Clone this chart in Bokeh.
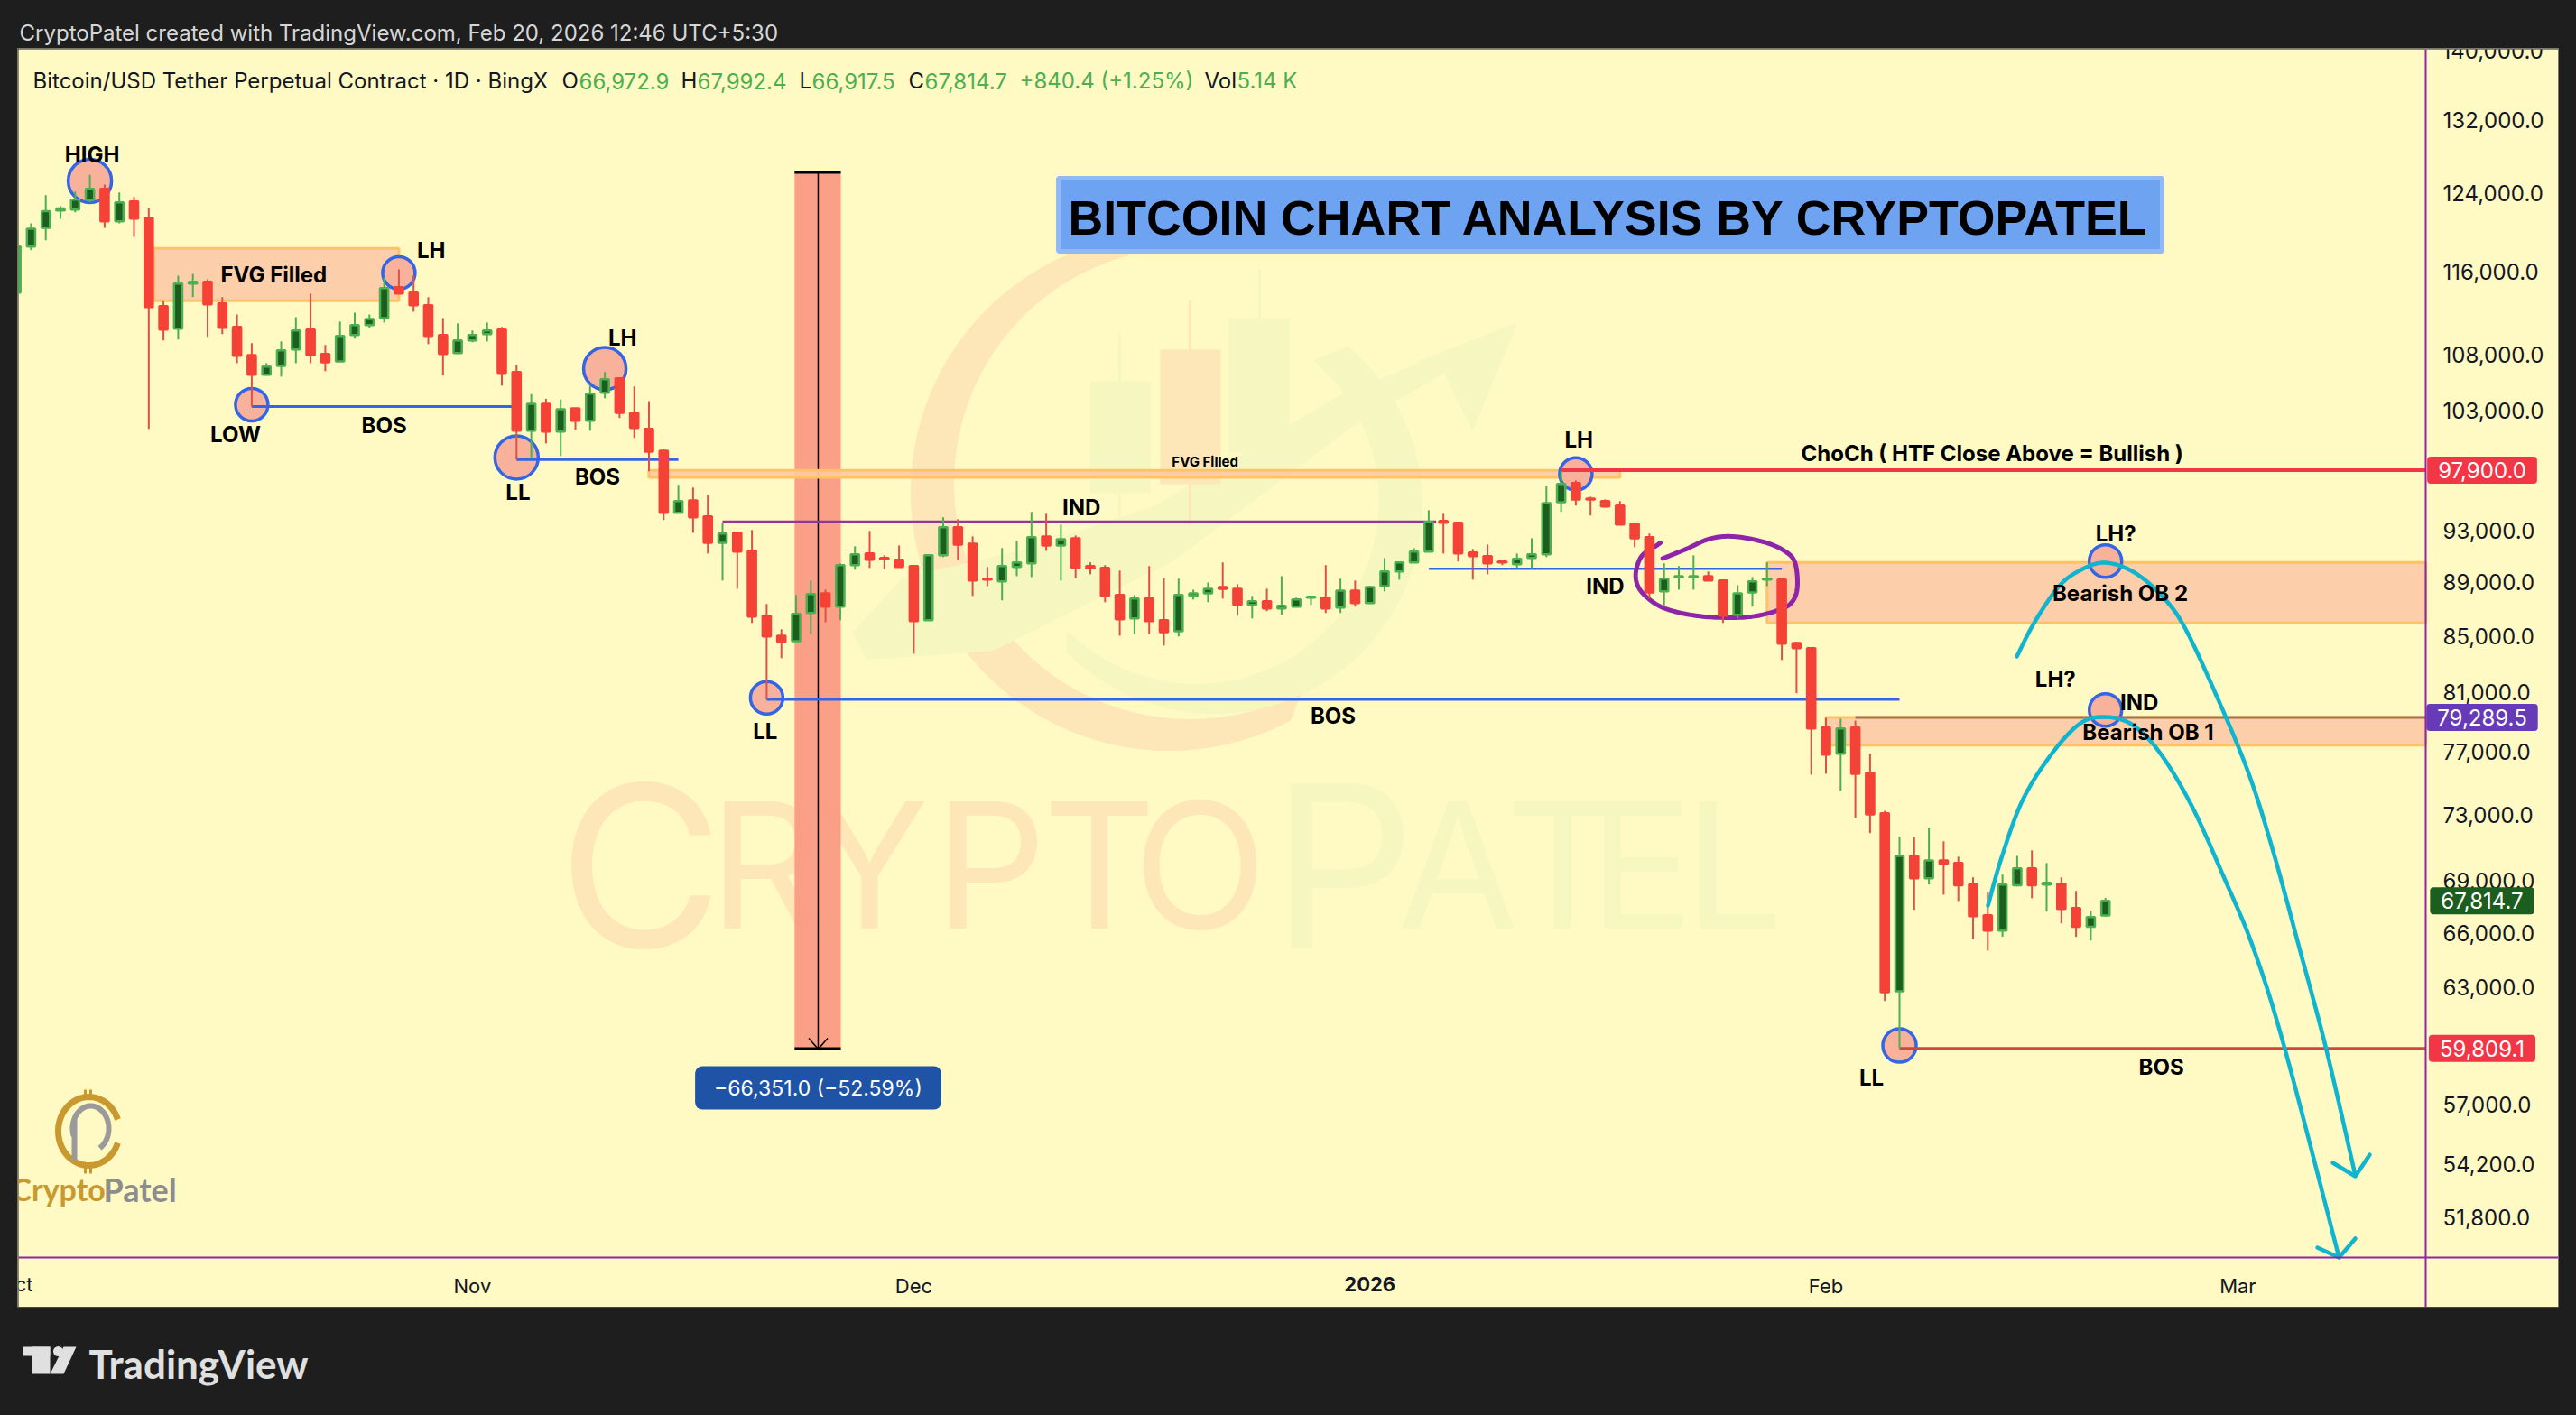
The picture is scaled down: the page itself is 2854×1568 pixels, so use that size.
from bokeh.plotting import figure
from bokeh.embed import file_html
from bokeh.layouts import column
from bokeh.resources import INLINE
from bokeh.core.properties import value
from bokeh.models import FixedTicker, Label, LinearAxis, LogAxis, NumeralTickFormatter, Range1d
import numpy as np

opens = [113900, 118450, 120360, 122170, 122260, 123300, 124430, 121040, 123110, 121420,
         112590, 110440, 114770, 114950, 112850, 110610, 108000, 106200, 107010, 108510,
         110360, 108090, 107410, 109850, 110780, 111450, 114420, 113900, 112670, 109850,
         108170, 109350, 109940, 110360, 106440, 101250, 103600, 101180, 103200, 102110,
         104580, 105870, 102810, 101410, 99540, 94410, 95420, 94120, 92030, 92820,
         91400, 86480, 85020, 84630, 86680, 88150, 87150, 90290, 91190, 90840,
         90700, 90220, 86150, 91050, 93250, 91960, 89250, 89040, 90150, 90430,
         92530, 91820, 92380, 90220, 90080, 88020, 86280, 87750, 86150, 85340,
         87950, 88150, 88620, 88490, 87280, 87550, 87020, 87150, 87820, 87820,
         87080, 88350, 87420, 88690, 89800, 90500, 91330, 93760, 93610, 91260,
         90980, 90570, 90360, 90840, 91120, 95270, 96840, 95560, 95350, 94990,
         93540, 92460, 88290, 89380, 89380, 89450, 89110, 86550, 88220, 89180,
         89180, 84500, 84120, 78610, 76880, 78610, 75640, 73070, 62790, 70470,
         69140, 70200, 70040, 68770, 66990, 66120, 68720, 69720, 68770, 68820,
         67400, 66330, 66972.9]
highs = [118730, 120830, 123770, 122640, 124140, 125940, 124900, 124050, 123580, 122360,
         113110, 115560, 115740, 115210, 113460, 111800, 109100, 107250, 109260, 111540,
         113810, 108930, 111120, 111970, 111800, 115390, 116180, 115560, 113460, 111450,
         110950, 110280, 111030, 110610, 107090, 104460, 104040, 103980, 103200, 105220,
         106440, 105950, 105140, 103830, 99690, 96690, 96460, 95860, 93610, 92820,
         93030, 87350, 85480, 88020, 89110, 88420, 90430, 91750, 92960, 91050,
         91820, 90290, 91120, 94050, 93900, 92530, 90150, 91610, 92170, 94480,
         94330, 93470, 92600, 90500, 90290, 89870, 88020, 90220, 89310, 89250,
         88420, 88970, 90500, 88830, 87950, 88490, 89450, 87820, 87950, 90290,
         89250, 89110, 88690, 90840, 90570, 91610, 94620, 94330, 93610, 91540,
         91890, 90700, 91190, 92380, 96610, 97810, 97060, 95710, 95490, 95350,
         93540, 92750, 90430, 90220, 91050, 89800, 89110, 88760, 89380, 90500,
         89180, 84570, 84180, 79270, 79210, 79080, 76880, 73230, 71630, 71580,
         72180, 71350, 70420, 69190, 68340, 69350, 70470, 70800, 70040, 69190,
         68400, 67250, 67992.4]
lows = [113810, 118090, 119090, 121300, 121980, 123020, 120360, 120830, 119450, 101410,
        109350, 109430, 113460, 109690, 109940, 107250, 103360, 106120, 106030, 107250,
        107250, 106520, 107410, 109520, 110530, 111030, 113810, 112060, 109010, 106120,
        108090, 109180, 109260, 105220, 98790, 98860, 100160, 99090, 101330, 101250,
        104090, 102350, 100630, 97810, 93830, 94410, 92820, 91190, 89110, 88490,
        85950, 80510, 83410, 84630, 85150, 86010, 86150, 89940, 90080, 90010,
        90150, 83730, 86150, 90910, 90700, 87950, 88690, 87620, 89450, 89380,
        91400, 89110, 89310, 89590, 87480, 85020, 85150, 85150, 84310, 84960,
        87680, 87480, 87750, 86480, 86280, 86820, 86550, 87080, 87280, 86680,
        86680, 87150, 87420, 88290, 89180, 90500, 91330, 91190, 90570, 89180,
        89590, 90290, 90080, 90080, 90910, 94480, 94990, 94190, 94840, 93470,
        91680, 87750, 87150, 88420, 88420, 89110, 85950, 86280, 87150, 88690,
        83280, 80950, 75520, 75580, 74490, 72790, 71850, 62270, 59809.1, 67300,
        68770, 68180, 67810, 65660, 65000, 65770, 68660, 67970, 67200, 66530,
        65770, 65560, 66917.5]
closes = [118450, 120270, 122080, 122360, 123300, 124430, 121040, 123020, 121320, 112500,
          110360, 114770, 114950, 112760, 110530, 107920, 106200, 106930, 108420, 110280,
          108000, 107330, 109770, 110780, 111370, 114340, 113810, 112670, 109770, 108090,
          109350, 109850, 110280, 106360, 101250, 103600, 101180, 103130, 102110, 104500,
          105790, 102810, 101490, 99460, 94410, 95350, 94050, 92030, 92750, 91330,
          86410, 84960, 84570, 86610, 88090, 87150, 90290, 91120, 90700, 90770,
          90150, 86080, 91050, 93250, 91890, 89110, 89180, 90220, 90500, 92460,
          91820, 92310, 90080, 90080, 87950, 86210, 87750, 86080, 85280, 88020,
          88150, 88490, 88490, 87280, 87550, 87020, 87220, 87680, 87890, 87020,
          88350, 87420, 88620, 89800, 90500, 91330, 93680, 93610, 91190, 90980,
          90430, 90500, 90770, 91120, 95200, 96760, 95490, 95490, 94910, 93470,
          92380, 88220, 89250, 89450, 89450, 89110, 86480, 88150, 89040, 89250,
          84440, 84120, 78550, 76820, 78550, 75580, 73010, 62740, 70470, 69140,
          70200, 69990, 68720, 66940, 66120, 68770, 69720, 68720, 68870, 67350,
          66330, 66890, 67814.7]

price_ticks = [132000, 124000, 116000, 108000, 103000, 93000, 89000, 85000, 81000,
               77000, 73000, 69000, 66000, 63000, 57000, 54200, 51800]
month_days = [31, 61, 123, 151]
month_names = ["Nov", "Dec", "Feb", "Mar"]

# structure points: day, price
circle_days = [5, 26, 16, 34, 40, 51, 106, 142, 142, 128]
circle_prices = [125270, 115820, 103520, 98970, 106760, 80640, 97590, 90600, 79800, 59950]
circle_sizes = [48, 36, 36, 48, 47, 36, 36, 36, 36, 37]

notes = ["HIGH", "FVG Filled", "LH", "LOW", "BOS", "LH", "LL", "BOS", "LL", "IND", "BOS", "LH",
         "ChoCh ( HTF Close Above = Bullish )", "IND", "LH?", "Bearish OB 2", "LH?", "IND",
         "Bearish OB 1", "LL", "BOS"]
note_days = [5.15, 17.5, 28.2, 14.9, 25, 41.2, 34.1, 39.5, 50.9, 72.4, 89.5, 106.2,
             134.3, 108, 142.7, 143, 138.6, 144.3, 144.9, 126.1, 145.8]
note_prices = [128060, 115650, 118090, 100940, 101720, 109600, 96080, 97360, 78370, 94840,
               79400, 100470, 99310, 88690, 92740, 88150, 81940, 80320, 78310, 58320, 58860]

legend_text = ["Bitcoin/USD Tether Perpetual Contract \u00b7 1D \u00b7 BingX", "O", "66,972.9", "H", "67,992.4",
               "L", "66,917.5", "C", "67,814.7", "+840.4 (+1.25%)", "Vol", "5.14 K"]

tag_prices = [97900.0, 79289.5, 67814.7, 59809.1]
tag_text = ["97,900.0", "79,289.5", "67,814.7", "59,809.1"]
tag_colors = ["#f23645", "#673ab7", "#1b5e20", "#f23645"]

BG = "#fff9c4"
DARK = "#1e1e1e"
PURPLE = "#8e24aa"
BLUE = "#3366e6"
CYAN = "#0fb5ce"
GREEN = "#4caf50"
RED = "#f44336"
INK = "#131722"

DAY_AXIS = 163.77


# window pixels to chart values, only for the hand drawn bits
def px_day(x):
    return (np.asarray(x, dtype=float) - 17.6) / 16.3


def px_price(y):
    return 132000 * np.exp(-(np.asarray(y, dtype=float) - 132) / 1300)


def smooth(points, n=12):
    pts = np.array([points[0]] + points + [points[-1]], dtype=float)
    out = []
    for i in range(1, len(pts) - 2):
        p0, p1, p2, p3 = pts[i - 1], pts[i], pts[i + 1], pts[i + 2]
        for t in np.linspace(0, 1, n, endpoint=False):
            out.append(0.5 * (2 * p1 + (p2 - p0) * t + (2 * p0 - 5 * p1 + 4 * p2 - p3) * t ** 2
                              + (3 * p1 - p0 - 3 * p2 + p3) * t ** 3))
    out.append(pts[-1])
    out = np.array(out)
    return px_day(out[:, 0]), px_price(out[:, 1])


def crescent(c1, r1, c2, r2, t0, t1):
    t = np.radians(np.linspace(t0, t1, 80))
    xs = np.concatenate([c1[0] + r1 * np.cos(t), (c2[0] + r2 * np.cos(t))[::-1]])
    ys = np.concatenate([c1[1] - r1 * np.sin(t), (c2[1] - r2 * np.sin(t))[::-1]])
    return px_day(xs), px_price(ys)


def strip(height, top):
    # dark band above or below the chart, its ranges are window pixels
    f = figure(width=2854, height=height, output_backend="svg", toolbar_location=None,
               x_range=Range1d(0, 2854), y_range=Range1d(top + height, top),
               x_axis_location=None, y_axis_location=None, min_border=0,
               background_fill_color=DARK, border_fill_color=DARK, outline_line_color=None)
    f.grid.visible = False
    return f


# header
head = strip(54, 0)
head.text([21], [36], text=["CryptoPatel created with TradingView.com, Feb 20, 2026 12:46 UTC+5:30"],
          text_font=value("Inter"), text_font_size="24px", text_color="#d6d6d6", text_baseline="middle")

# main chart: the frame fills the whole panel, both axes sit inside it at a fixed place
p = figure(width=2814, height=1394, output_backend="svg", toolbar_location=None,
           y_axis_type="log", x_axis_location=None, y_axis_location=None,
           x_range=Range1d(0.147, float(px_day(2834))), y_range=Range1d(float(px_price(1448)), 140167),
           min_border=0, background_fill_color=BG, border_fill_color=BG, outline_line_color=None,
           margin=(0, 20, 0, 20))
p.stylesheets = [":host { box-shadow: 0 0 0 1px #77776a; }"]
p.grid.visible = False

y_axis = LogAxis(fixed_location=DAY_AXIS, ticker=FixedTicker(ticks=price_ticks),
                 formatter=NumeralTickFormatter(format="0,0.0"))
x_axis = LinearAxis(fixed_location=float(px_price(1393)), ticker=FixedTicker(ticks=month_days),
                    major_label_overrides=dict(zip(month_days, month_names)))
for ax in (x_axis, y_axis):
    ax.axis_line_color = PURPLE
    ax.axis_line_width = 2
    ax.major_tick_line_color = None
    ax.minor_tick_line_color = None
    ax.major_label_text_font = "Inter"
    ax.major_label_text_color = INK
y_axis.major_label_text_font_size = "24px"
x_axis.major_label_text_font_size = "22px"
y_axis.major_label_standoff = 13
x_axis.major_label_standoff = 12
p.add_layout(y_axis, "right")
p.add_layout(x_axis, "below")

# watermark behind everything
WM_ORANGE = "#fde6b8"
WM_GREEN = "#f6f6c0"
xs, ys = crescent((1295, 545), 286, (1318, 535), 262, 105, 298)
p.patch(xs, ys, color=WM_ORANGE)
xs, ys = crescent((1345, 560), 230, (1325, 555), 203, 50, -135)
p.patch(xs, ys, color=WM_GREEN)
p.patch(px_day([960, 1100, 1300, 1500, 1600, 1631, 1680, 1569, 1590, 1480, 1280, 1130, 1000, 945]),
        px_price([730, 720, 620, 470, 412, 476, 358, 401, 395, 440, 560, 610, 640, 700]), color=WM_GREEN)
p.quad(px_day([1207, 1285, 1361]), px_day([1274, 1352, 1428]),
       px_price([422, 387, 352]), px_price([546, 536, 501]),
       color=[WM_GREEN, WM_ORANGE, WM_GREEN], line_color=None)
p.segment(px_day([1240, 1318, 1395]), px_price([369, 332, 298]), px_day([1240, 1318, 1395]),
          px_price([590, 581, 547]), color=[WM_GREEN, WM_ORANGE, WM_GREEN], line_width=3)
wm_letters = ["C", "R", "Y", "P", "T", "O", "P", "A", "T", "E", "L"]
wm_left = [618, 785, 897, 1035, 1155, 1255, 1408, 1548, 1668, 1760, 1866]
wm_size = [250, 194, 194, 194, 194, 194, 250, 194, 194, 194, 194]
wm_color = [WM_ORANGE] * 6 + [WM_GREEN] * 5
for ch, lx, sz, col in zip(wm_letters, wm_left, wm_size, wm_color):
    p.text(px_day([lx]), px_price([958]), text=[ch], text_font=value("Inter"),
           text_font_size="%dpx" % sz, text_color=col, text_baseline="alphabetic", text_align="left")

# measure tool
p.quad(52.9, 56.04, 126160, 59809.1, fill_color="#fa9680", fill_alpha=0.9, line_color=None)
p.segment([52.9, 52.9], [126160, 59809.1], [56.04, 56.04], [126160, 59809.1], color="black", line_width=2.5)
p.segment([54.5], [126160], [54.5], [59809.1], color="black", line_width=1.5)
p.multi_line([list(px_day([895.5, 906, 916.5]))], [list(px_price([1150, 1162, 1150]))], color="black", line_width=1.5)

# zones
ZONE = "#fccaa6"
ZONE_EDGE = "#ffc266"
p.quad([9.35, 43, 119, 123], [26, 109, DAY_AXIS, DAY_AXIS],
       [118270, 97890, 90500, 79289.5], [113110, 97300, 85950, 77440],
       fill_color=ZONE, fill_alpha=0.92, line_color=ZONE_EDGE, line_width=3)

# structure lines
p.scatter(circle_days, circle_prices, size=circle_sizes, fill_color="#f8b29b",
          line_color=BLUE, line_width=3.5)
p.segment([16, 34], [103360, 98790], [34, 45], [103360, 98790], color=BLUE, line_width=3)
p.segment([51, 96], [80510, 90010], [128, 120], [80510, 90010], color=BLUE, line_width=2.5)
p.segment([48], [93680], [96.5], [93680], color="#8e3a8e", line_width=3)
p.segment([125], [79289.5], [DAY_AXIS], [79289.5], color="#a8705a", line_width=3)
p.segment([105], [97900], [DAY_AXIS], [97900], color="#f23645", line_width=4)
p.segment([128], [59809.1], [DAY_AXIS], [59809.1], color="#d0453e", line_width=3)

ellipse = [(725, 505), (800, 475), (880, 440), (960, 432), (1060, 450), (1130, 480), (1165, 520),
           (1172, 605), (1150, 655), (1100, 680), (1030, 697), (950, 702), (850, 697), (760, 680),
           (700, 655), (650, 610), (635, 560), (650, 505), (680, 475), (700, 465), (717, 453)]
xs, ys = smooth([[1600 + a / 3, 450 + b / 3] for a, b in ellipse])
p.line(xs, ys, color=PURPLE, line_width=5, line_cap="round", line_join="round")

# candles
days = np.arange(len(opens))
opens_a, highs_a, lows_a, closes_a = map(np.array, (opens, highs, lows, closes))
up = closes_a >= opens_a
p.segment(days[up], highs_a[up], days[up], lows_a[up], color=GREEN, line_width=2)
p.segment(days[~up], highs_a[~up], days[~up], lows_a[~up], color="#dc5248", line_width=2)
p.vbar(days[up], 0.56, closes_a[up], opens_a[up], fill_color="#1b5e20", line_color=GREEN, line_width=2.5)
p.vbar(days[~up], 0.56, opens_a[~up], closes_a[~up], fill_color=RED, line_color=RED, line_width=2.5)

# projected paths
arc_top = [[2234, 727], [2253, 690], [2280, 650], [2303, 632], [2330, 623], [2361, 632], [2392, 657],
           [2419, 693], [2455, 770], [2491, 857], [2518, 943], [2547, 1050], [2577, 1163], [2609, 1302]]
arc_low = [[2202, 1003], [2217, 950], [2240, 887], [2271, 837], [2303, 802], [2330, 794], [2361, 802],
           [2392, 833], [2428, 893], [2464, 973], [2496, 1050], [2531, 1162], [2591, 1393]]
for arc in (arc_top, arc_low):
    xs, ys = smooth(arc)
    p.line(xs, ys, color=CYAN, line_width=4.5, line_cap="round")
p.multi_line([list(px_day([2584, 2609, 2625])), list(px_day([2567, 2591, 2609]))],
             [list(px_price([1288, 1303, 1279])), list(px_price([1382, 1393, 1372]))],
             color=CYAN, line_width=4.5, line_cap="round", line_join="round")

# CryptoPatel mark
GOLD = "#c9992f"
t = np.radians(np.linspace(20, 340, 60))
p.line(px_day(98 + 34 * np.cos(t)), px_price(1253 - 38 * np.sin(t)), color=GOLD, line_width=7)
t = np.radians(np.linspace(-60, 200, 60))
p.line(px_day(100 + 20 * np.cos(t)), px_price(1250 - 25 * np.sin(t)), color="#9a9a9a", line_width=6)
p.segment(px_day([82]), px_price([1240]), px_day([82]), px_price([1285]), color="#9a9a9a", line_width=6)
p.segment(px_day([94, 100]), px_price([1207, 1207]), px_day([94, 100]), px_price([1217, 1217]), color=GOLD, line_width=3)
p.segment(px_day([94, 100]), px_price([1291, 1291]), px_day([94, 100]), px_price([1300, 1300]), color=GOLD, line_width=3)
p.text(px_day([12]), px_price([1317]), text=["Crypto"], text_font=value("Lato"), text_font_style="bold",
       text_font_size="34px", text_color=GOLD, text_baseline="middle")
p.text(px_day([114]), px_price([1317]), text=["Patel"], text_font=value("Lato"), text_font_style="bold",
       text_font_size="36px", text_color="#8d8d8d", text_baseline="middle")

# notes on the chart
p.text(note_days, note_prices, text=notes, text_font=value("Inter"), text_font_style="bold",
       text_font_size="24px", text_color="black", text_align="center", text_baseline="middle")
p.text([80.8], [98635], text=["FVG Filled"], text_font=value("Inter"), text_font_style="bold",
       text_font_size="15px", text_color="black", text_align="center", text_baseline="middle")

# title banner
p.quad(px_day([1172]), px_day([2395]), px_price([197]), px_price([278]), fill_color="#6ea3f2",
       line_color="#8fbaf5", line_width=5)
p.text(px_day([1782]), px_price([240]), text=["BITCOIN CHART ANALYSIS BY CRYPTOPATEL"],
       text_font=value("Liberation Sans"), text_font_style="bold", text_font_size="53.7px",
       text_color="black", text_align="center", text_baseline="middle")

# measure tag
p.add_layout(Label(x=54.5, y=float(px_price(1205)), text="\u221266,351.0 (\u221252.59%)", text_color="#ffffff",
                   text_font="Inter", text_font_size="23px", text_align="center", text_baseline="middle",
                   background_fill_color="#1e53a6", padding=(21, 10), border_radius=8))

# legend row
legend_x = [36, 622, 641, 754, 772, 885, 899, 1006, 1024, 1129, 1334, 1370]
legend_colors = [INK, INK, GREEN, INK, GREEN, INK, GREEN, INK, GREEN, GREEN, INK, GREEN]
p.text(px_day(legend_x), [float(px_price(89))] * 12, text=legend_text, text_font=value("Inter"), text_font_size="24px",
       text_color=legend_colors, text_baseline="middle")

# axis texts of their own
TICK_TEXT_X = float(px_day(2705))
TICK_TEXT_Y = float(px_price(1422))
TAG_CENTER_X = float(px_day(2749.5))
p.add_layout(Label(x=0, y=TICK_TEXT_Y, text="Oct", text_font="Inter", text_font_size="22px", text_color=INK,
                   text_align="center", text_baseline="middle"))
p.add_layout(Label(x=92, y=TICK_TEXT_Y, text="2026", text_font="Inter", text_font_size="22px", text_color=INK,
                   text_font_style="bold", text_align="center", text_baseline="middle"))
p.add_layout(Label(x=TICK_TEXT_X, y=140000, text="140,000.0", text_font="Inter", text_font_size="24px",
                   text_color=INK, text_baseline="middle"))

# price tags
for price, txt, col in zip(tag_prices, tag_text, tag_colors):
    p.add_layout(Label(x=TAG_CENTER_X, y=price, text=txt, text_font="Inter", text_font_size="24px",
                       text_color="#ffffff", text_align="center", text_baseline="middle",
                       background_fill_color=col, padding=(12, 6), border_radius=4, level="overlay"))

# footer with the logo
foot = strip(120, 1448)
foot.quad([25, 35], [55, 55], [1492, 1492], [1502, 1522], color="#e0e0e0", line_color=None)
foot.scatter([64], [1497], size=11, color="#e0e0e0", line_color=None)
foot.patch([70, 84, 70, 55], [1492, 1492, 1522, 1522], color="#e0e0e0", line_color=None)
foot.text([98], [1510], text=["TradingView"], text_font=value("Lato"), text_font_style="bold",
          text_font_size="44px", text_color="#e0e0e0", text_baseline="middle")

page = column(head, p, foot, spacing=0, width=2854, styles={"background-color": DARK})
open("out.html", "w").write(file_html(page, INLINE))
